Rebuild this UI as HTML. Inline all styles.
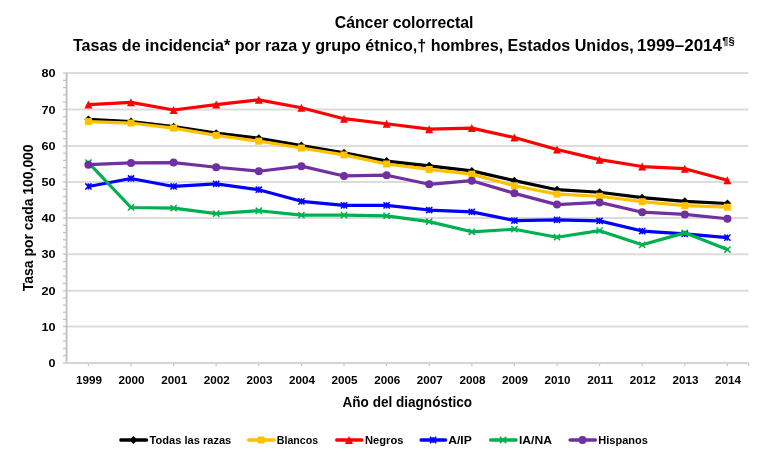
<!DOCTYPE html>
<html><head><meta charset="utf-8"><style>
html,body{margin:0;padding:0;background:#fff;}
svg{display:block;will-change:transform;}
text{font-family:"Liberation Sans", sans-serif;fill:#000;}
</style></head><body>
<svg width="764" height="461" viewBox="0 0 764 461">
<rect width="764" height="461" fill="#fff"/>
<line x1="66.60" y1="326.55" x2="748.50" y2="326.55" stroke="#DCDCDC" stroke-width="2.0"/>
<line x1="66.60" y1="290.75" x2="748.50" y2="290.75" stroke="#DCDCDC" stroke-width="2.0"/>
<line x1="66.60" y1="254.30" x2="748.50" y2="254.30" stroke="#DCDCDC" stroke-width="2.0"/>
<line x1="66.60" y1="218.00" x2="748.50" y2="218.00" stroke="#DCDCDC" stroke-width="2.0"/>
<line x1="66.60" y1="182.10" x2="748.50" y2="182.10" stroke="#DCDCDC" stroke-width="2.0"/>
<line x1="66.60" y1="146.00" x2="748.50" y2="146.00" stroke="#DCDCDC" stroke-width="2.0"/>
<line x1="66.60" y1="109.40" x2="748.50" y2="109.40" stroke="#DCDCDC" stroke-width="2.0"/>
<line x1="66.60" y1="73.00" x2="748.50" y2="73.00" stroke="#DCDCDC" stroke-width="2.0"/>
<line x1="63" y1="363.00" x2="66.60" y2="363.00" stroke="#BFBFBF" stroke-width="1.2"/>
<line x1="63" y1="355.71" x2="66.60" y2="355.71" stroke="#BFBFBF" stroke-width="1.2"/>
<line x1="63" y1="348.42" x2="66.60" y2="348.42" stroke="#BFBFBF" stroke-width="1.2"/>
<line x1="63" y1="341.13" x2="66.60" y2="341.13" stroke="#BFBFBF" stroke-width="1.2"/>
<line x1="63" y1="333.84" x2="66.60" y2="333.84" stroke="#BFBFBF" stroke-width="1.2"/>
<line x1="63" y1="326.55" x2="66.60" y2="326.55" stroke="#BFBFBF" stroke-width="1.2"/>
<line x1="63" y1="319.39" x2="66.60" y2="319.39" stroke="#BFBFBF" stroke-width="1.2"/>
<line x1="63" y1="312.23" x2="66.60" y2="312.23" stroke="#BFBFBF" stroke-width="1.2"/>
<line x1="63" y1="305.07" x2="66.60" y2="305.07" stroke="#BFBFBF" stroke-width="1.2"/>
<line x1="63" y1="297.91" x2="66.60" y2="297.91" stroke="#BFBFBF" stroke-width="1.2"/>
<line x1="63" y1="290.75" x2="66.60" y2="290.75" stroke="#BFBFBF" stroke-width="1.2"/>
<line x1="63" y1="283.46" x2="66.60" y2="283.46" stroke="#BFBFBF" stroke-width="1.2"/>
<line x1="63" y1="276.17" x2="66.60" y2="276.17" stroke="#BFBFBF" stroke-width="1.2"/>
<line x1="63" y1="268.88" x2="66.60" y2="268.88" stroke="#BFBFBF" stroke-width="1.2"/>
<line x1="63" y1="261.59" x2="66.60" y2="261.59" stroke="#BFBFBF" stroke-width="1.2"/>
<line x1="63" y1="254.30" x2="66.60" y2="254.30" stroke="#BFBFBF" stroke-width="1.2"/>
<line x1="63" y1="247.04" x2="66.60" y2="247.04" stroke="#BFBFBF" stroke-width="1.2"/>
<line x1="63" y1="239.78" x2="66.60" y2="239.78" stroke="#BFBFBF" stroke-width="1.2"/>
<line x1="63" y1="232.52" x2="66.60" y2="232.52" stroke="#BFBFBF" stroke-width="1.2"/>
<line x1="63" y1="225.26" x2="66.60" y2="225.26" stroke="#BFBFBF" stroke-width="1.2"/>
<line x1="63" y1="218.00" x2="66.60" y2="218.00" stroke="#BFBFBF" stroke-width="1.2"/>
<line x1="63" y1="210.82" x2="66.60" y2="210.82" stroke="#BFBFBF" stroke-width="1.2"/>
<line x1="63" y1="203.64" x2="66.60" y2="203.64" stroke="#BFBFBF" stroke-width="1.2"/>
<line x1="63" y1="196.46" x2="66.60" y2="196.46" stroke="#BFBFBF" stroke-width="1.2"/>
<line x1="63" y1="189.28" x2="66.60" y2="189.28" stroke="#BFBFBF" stroke-width="1.2"/>
<line x1="63" y1="182.10" x2="66.60" y2="182.10" stroke="#BFBFBF" stroke-width="1.2"/>
<line x1="63" y1="174.88" x2="66.60" y2="174.88" stroke="#BFBFBF" stroke-width="1.2"/>
<line x1="63" y1="167.66" x2="66.60" y2="167.66" stroke="#BFBFBF" stroke-width="1.2"/>
<line x1="63" y1="160.44" x2="66.60" y2="160.44" stroke="#BFBFBF" stroke-width="1.2"/>
<line x1="63" y1="153.22" x2="66.60" y2="153.22" stroke="#BFBFBF" stroke-width="1.2"/>
<line x1="63" y1="146.00" x2="66.60" y2="146.00" stroke="#BFBFBF" stroke-width="1.2"/>
<line x1="63" y1="138.68" x2="66.60" y2="138.68" stroke="#BFBFBF" stroke-width="1.2"/>
<line x1="63" y1="131.36" x2="66.60" y2="131.36" stroke="#BFBFBF" stroke-width="1.2"/>
<line x1="63" y1="124.04" x2="66.60" y2="124.04" stroke="#BFBFBF" stroke-width="1.2"/>
<line x1="63" y1="116.72" x2="66.60" y2="116.72" stroke="#BFBFBF" stroke-width="1.2"/>
<line x1="63" y1="109.40" x2="66.60" y2="109.40" stroke="#BFBFBF" stroke-width="1.2"/>
<line x1="63" y1="102.12" x2="66.60" y2="102.12" stroke="#BFBFBF" stroke-width="1.2"/>
<line x1="63" y1="94.84" x2="66.60" y2="94.84" stroke="#BFBFBF" stroke-width="1.2"/>
<line x1="63" y1="87.56" x2="66.60" y2="87.56" stroke="#BFBFBF" stroke-width="1.2"/>
<line x1="63" y1="80.28" x2="66.60" y2="80.28" stroke="#BFBFBF" stroke-width="1.2"/>
<line x1="63" y1="73.00" x2="66.60" y2="73.00" stroke="#BFBFBF" stroke-width="1.2"/>
<line x1="88.40" y1="363.00" x2="88.40" y2="366" stroke="#BFBFBF" stroke-width="1.2"/>
<line x1="131.00" y1="363.00" x2="131.00" y2="366" stroke="#BFBFBF" stroke-width="1.2"/>
<line x1="173.60" y1="363.00" x2="173.60" y2="366" stroke="#BFBFBF" stroke-width="1.2"/>
<line x1="216.20" y1="363.00" x2="216.20" y2="366" stroke="#BFBFBF" stroke-width="1.2"/>
<line x1="258.80" y1="363.00" x2="258.80" y2="366" stroke="#BFBFBF" stroke-width="1.2"/>
<line x1="301.40" y1="363.00" x2="301.40" y2="366" stroke="#BFBFBF" stroke-width="1.2"/>
<line x1="344.00" y1="363.00" x2="344.00" y2="366" stroke="#BFBFBF" stroke-width="1.2"/>
<line x1="386.60" y1="363.00" x2="386.60" y2="366" stroke="#BFBFBF" stroke-width="1.2"/>
<line x1="429.20" y1="363.00" x2="429.20" y2="366" stroke="#BFBFBF" stroke-width="1.2"/>
<line x1="471.80" y1="363.00" x2="471.80" y2="366" stroke="#BFBFBF" stroke-width="1.2"/>
<line x1="514.40" y1="363.00" x2="514.40" y2="366" stroke="#BFBFBF" stroke-width="1.2"/>
<line x1="557.00" y1="363.00" x2="557.00" y2="366" stroke="#BFBFBF" stroke-width="1.2"/>
<line x1="599.60" y1="363.00" x2="599.60" y2="366" stroke="#BFBFBF" stroke-width="1.2"/>
<line x1="642.20" y1="363.00" x2="642.20" y2="366" stroke="#BFBFBF" stroke-width="1.2"/>
<line x1="684.80" y1="363.00" x2="684.80" y2="366" stroke="#BFBFBF" stroke-width="1.2"/>
<line x1="727.40" y1="363.00" x2="727.40" y2="366" stroke="#BFBFBF" stroke-width="1.2"/>
<line x1="748.50" y1="363.00" x2="748.50" y2="366" stroke="#BFBFBF" stroke-width="1.2"/>
<line x1="66.60" y1="73.00" x2="66.60" y2="363.75" stroke="#BFBFBF" stroke-width="1.8"/>
<line x1="65.70" y1="363.00" x2="748.50" y2="363.00" stroke="#D4D4D4" stroke-width="1.9"/>
<polyline points="88.40,119.40 131.00,121.57 173.60,126.65 216.20,133.18 258.80,138.25 301.40,145.50 344.00,152.75 386.60,161.09 429.20,165.80 471.80,170.88 514.40,180.66 557.00,189.72 599.60,192.26 642.20,197.70 684.80,201.32 727.40,203.50" fill="none" stroke="#000000" stroke-width="3.2" stroke-linejoin="round" stroke-linecap="round"/>
<path d="M88.40,115.40 L92.40,119.40 L88.40,123.40 L84.40,119.40Z" fill="#000000"/>
<path d="M131.00,117.57 L135.00,121.57 L131.00,125.57 L127.00,121.57Z" fill="#000000"/>
<path d="M173.60,122.65 L177.60,126.65 L173.60,130.65 L169.60,126.65Z" fill="#000000"/>
<path d="M216.20,129.18 L220.20,133.18 L216.20,137.18 L212.20,133.18Z" fill="#000000"/>
<path d="M258.80,134.25 L262.80,138.25 L258.80,142.25 L254.80,138.25Z" fill="#000000"/>
<path d="M301.40,141.50 L305.40,145.50 L301.40,149.50 L297.40,145.50Z" fill="#000000"/>
<path d="M344.00,148.75 L348.00,152.75 L344.00,156.75 L340.00,152.75Z" fill="#000000"/>
<path d="M386.60,157.09 L390.60,161.09 L386.60,165.09 L382.60,161.09Z" fill="#000000"/>
<path d="M429.20,161.80 L433.20,165.80 L429.20,169.80 L425.20,165.80Z" fill="#000000"/>
<path d="M471.80,166.88 L475.80,170.88 L471.80,174.88 L467.80,170.88Z" fill="#000000"/>
<path d="M514.40,176.66 L518.40,180.66 L514.40,184.66 L510.40,180.66Z" fill="#000000"/>
<path d="M557.00,185.72 L561.00,189.72 L557.00,193.72 L553.00,189.72Z" fill="#000000"/>
<path d="M599.60,188.26 L603.60,192.26 L599.60,196.26 L595.60,192.26Z" fill="#000000"/>
<path d="M642.20,193.70 L646.20,197.70 L642.20,201.70 L638.20,197.70Z" fill="#000000"/>
<path d="M684.80,197.32 L688.80,201.32 L684.80,205.32 L680.80,201.32Z" fill="#000000"/>
<path d="M727.40,199.50 L731.40,203.50 L727.40,207.50 L723.40,203.50Z" fill="#000000"/>
<polyline points="88.40,121.57 131.00,123.03 173.60,128.10 216.20,135.35 258.80,141.15 301.40,148.04 344.00,154.93 386.60,163.99 429.20,169.43 471.80,174.14 514.40,185.74 557.00,194.07 599.60,196.25 642.20,201.69 684.80,205.68 727.40,207.12" fill="none" stroke="#FFC000" stroke-width="3.2" stroke-linejoin="round" stroke-linecap="round"/>
<rect x="84.90" y="118.07" width="7.00" height="7.00" fill="#FFC000"/>
<rect x="127.50" y="119.53" width="7.00" height="7.00" fill="#FFC000"/>
<rect x="170.10" y="124.60" width="7.00" height="7.00" fill="#FFC000"/>
<rect x="212.70" y="131.85" width="7.00" height="7.00" fill="#FFC000"/>
<rect x="255.30" y="137.65" width="7.00" height="7.00" fill="#FFC000"/>
<rect x="297.90" y="144.54" width="7.00" height="7.00" fill="#FFC000"/>
<rect x="340.50" y="151.43" width="7.00" height="7.00" fill="#FFC000"/>
<rect x="383.10" y="160.49" width="7.00" height="7.00" fill="#FFC000"/>
<rect x="425.70" y="165.93" width="7.00" height="7.00" fill="#FFC000"/>
<rect x="468.30" y="170.64" width="7.00" height="7.00" fill="#FFC000"/>
<rect x="510.90" y="182.24" width="7.00" height="7.00" fill="#FFC000"/>
<rect x="553.50" y="190.57" width="7.00" height="7.00" fill="#FFC000"/>
<rect x="596.10" y="192.75" width="7.00" height="7.00" fill="#FFC000"/>
<rect x="638.70" y="198.19" width="7.00" height="7.00" fill="#FFC000"/>
<rect x="681.30" y="202.18" width="7.00" height="7.00" fill="#FFC000"/>
<rect x="723.90" y="203.62" width="7.00" height="7.00" fill="#FFC000"/>
<polyline points="88.40,104.54 131.00,102.36 173.60,109.97 216.20,104.54 258.80,99.82 301.40,107.80 344.00,118.68 386.60,123.75 429.20,129.19 471.80,128.10 514.40,137.53 557.00,149.49 599.60,159.64 642.20,166.53 684.80,168.70 727.40,180.30" fill="none" stroke="#FF0000" stroke-width="3.2" stroke-linejoin="round" stroke-linecap="round"/>
<path d="M88.40,100.54 L92.40,108.54 L84.40,108.54Z" fill="#FF0000"/>
<path d="M131.00,98.36 L135.00,106.36 L127.00,106.36Z" fill="#FF0000"/>
<path d="M173.60,105.97 L177.60,113.97 L169.60,113.97Z" fill="#FF0000"/>
<path d="M216.20,100.54 L220.20,108.54 L212.20,108.54Z" fill="#FF0000"/>
<path d="M258.80,95.82 L262.80,103.82 L254.80,103.82Z" fill="#FF0000"/>
<path d="M301.40,103.80 L305.40,111.80 L297.40,111.80Z" fill="#FF0000"/>
<path d="M344.00,114.68 L348.00,122.68 L340.00,122.68Z" fill="#FF0000"/>
<path d="M386.60,119.75 L390.60,127.75 L382.60,127.75Z" fill="#FF0000"/>
<path d="M429.20,125.19 L433.20,133.19 L425.20,133.19Z" fill="#FF0000"/>
<path d="M471.80,124.10 L475.80,132.10 L467.80,132.10Z" fill="#FF0000"/>
<path d="M514.40,133.53 L518.40,141.53 L510.40,141.53Z" fill="#FF0000"/>
<path d="M557.00,145.49 L561.00,153.49 L553.00,153.49Z" fill="#FF0000"/>
<path d="M599.60,155.64 L603.60,163.64 L595.60,163.64Z" fill="#FF0000"/>
<path d="M642.20,162.53 L646.20,170.53 L638.20,170.53Z" fill="#FF0000"/>
<path d="M684.80,164.70 L688.80,172.70 L680.80,172.70Z" fill="#FF0000"/>
<path d="M727.40,176.30 L731.40,184.30 L723.40,184.30Z" fill="#FF0000"/>
<polyline points="88.40,186.46 131.00,178.49 173.60,186.46 216.20,183.93 258.80,189.72 301.40,201.32 344.00,205.31 386.60,205.31 429.20,210.03 471.80,211.84 514.40,220.54 557.00,219.81 599.60,220.90 642.20,231.05 684.80,233.95 727.40,237.57" fill="none" stroke="#0000FF" stroke-width="3.2" stroke-linejoin="round" stroke-linecap="round"/>
<path d="M85.30,183.36 L91.50,189.56 M91.50,183.36 L85.30,189.56 M88.40,183.36 L88.40,189.56" stroke="#0000FF" stroke-width="1.5" fill="none"/>
<path d="M127.90,175.39 L134.10,181.59 M134.10,175.39 L127.90,181.59 M131.00,175.39 L131.00,181.59" stroke="#0000FF" stroke-width="1.5" fill="none"/>
<path d="M170.50,183.36 L176.70,189.56 M176.70,183.36 L170.50,189.56 M173.60,183.36 L173.60,189.56" stroke="#0000FF" stroke-width="1.5" fill="none"/>
<path d="M213.10,180.83 L219.30,187.03 M219.30,180.83 L213.10,187.03 M216.20,180.83 L216.20,187.03" stroke="#0000FF" stroke-width="1.5" fill="none"/>
<path d="M255.70,186.62 L261.90,192.82 M261.90,186.62 L255.70,192.82 M258.80,186.62 L258.80,192.82" stroke="#0000FF" stroke-width="1.5" fill="none"/>
<path d="M298.30,198.22 L304.50,204.42 M304.50,198.22 L298.30,204.42 M301.40,198.22 L301.40,204.42" stroke="#0000FF" stroke-width="1.5" fill="none"/>
<path d="M340.90,202.21 L347.10,208.41 M347.10,202.21 L340.90,208.41 M344.00,202.21 L344.00,208.41" stroke="#0000FF" stroke-width="1.5" fill="none"/>
<path d="M383.50,202.21 L389.70,208.41 M389.70,202.21 L383.50,208.41 M386.60,202.21 L386.60,208.41" stroke="#0000FF" stroke-width="1.5" fill="none"/>
<path d="M426.10,206.93 L432.30,213.12 M432.30,206.93 L426.10,213.12 M429.20,206.93 L429.20,213.12" stroke="#0000FF" stroke-width="1.5" fill="none"/>
<path d="M468.70,208.74 L474.90,214.94 M474.90,208.74 L468.70,214.94 M471.80,208.74 L471.80,214.94" stroke="#0000FF" stroke-width="1.5" fill="none"/>
<path d="M511.30,217.44 L517.50,223.64 M517.50,217.44 L511.30,223.64 M514.40,217.44 L514.40,223.64" stroke="#0000FF" stroke-width="1.5" fill="none"/>
<path d="M553.90,216.71 L560.10,222.91 M560.10,216.71 L553.90,222.91 M557.00,216.71 L557.00,222.91" stroke="#0000FF" stroke-width="1.5" fill="none"/>
<path d="M596.50,217.80 L602.70,224.00 M602.70,217.80 L596.50,224.00 M599.60,217.80 L599.60,224.00" stroke="#0000FF" stroke-width="1.5" fill="none"/>
<path d="M639.10,227.95 L645.30,234.15 M645.30,227.95 L639.10,234.15 M642.20,227.95 L642.20,234.15" stroke="#0000FF" stroke-width="1.5" fill="none"/>
<path d="M681.70,230.85 L687.90,237.05 M687.90,230.85 L681.70,237.05 M684.80,230.85 L684.80,237.05" stroke="#0000FF" stroke-width="1.5" fill="none"/>
<path d="M724.30,234.47 L730.50,240.67 M730.50,234.47 L724.30,240.67 M727.40,234.47 L727.40,240.67" stroke="#0000FF" stroke-width="1.5" fill="none"/>
<polyline points="88.40,162.54 131.00,207.49 173.60,208.21 216.20,213.65 258.80,210.75 301.40,215.10 344.00,215.10 386.60,215.82 429.20,221.62 471.80,231.78 514.40,229.24 557.00,237.21 599.60,230.69 642.20,244.82 684.80,232.86 727.40,249.54" fill="none" stroke="#00B050" stroke-width="3.2" stroke-linejoin="round" stroke-linecap="round"/>
<path d="M85.30,159.44 L91.50,165.64 M91.50,159.44 L85.30,165.64" stroke="#00B050" stroke-width="1.5" fill="none"/>
<path d="M127.90,204.39 L134.10,210.59 M134.10,204.39 L127.90,210.59" stroke="#00B050" stroke-width="1.5" fill="none"/>
<path d="M170.50,205.11 L176.70,211.31 M176.70,205.11 L170.50,211.31" stroke="#00B050" stroke-width="1.5" fill="none"/>
<path d="M213.10,210.55 L219.30,216.75 M219.30,210.55 L213.10,216.75" stroke="#00B050" stroke-width="1.5" fill="none"/>
<path d="M255.70,207.65 L261.90,213.85 M261.90,207.65 L255.70,213.85" stroke="#00B050" stroke-width="1.5" fill="none"/>
<path d="M298.30,212.00 L304.50,218.20 M304.50,212.00 L298.30,218.20" stroke="#00B050" stroke-width="1.5" fill="none"/>
<path d="M340.90,212.00 L347.10,218.20 M347.10,212.00 L340.90,218.20" stroke="#00B050" stroke-width="1.5" fill="none"/>
<path d="M383.50,212.72 L389.70,218.92 M389.70,212.72 L383.50,218.92" stroke="#00B050" stroke-width="1.5" fill="none"/>
<path d="M426.10,218.53 L432.30,224.72 M432.30,218.53 L426.10,224.72" stroke="#00B050" stroke-width="1.5" fill="none"/>
<path d="M468.70,228.68 L474.90,234.88 M474.90,228.68 L468.70,234.88" stroke="#00B050" stroke-width="1.5" fill="none"/>
<path d="M511.30,226.14 L517.50,232.34 M517.50,226.14 L511.30,232.34" stroke="#00B050" stroke-width="1.5" fill="none"/>
<path d="M553.90,234.11 L560.10,240.31 M560.10,234.11 L553.90,240.31" stroke="#00B050" stroke-width="1.5" fill="none"/>
<path d="M596.50,227.59 L602.70,233.79 M602.70,227.59 L596.50,233.79" stroke="#00B050" stroke-width="1.5" fill="none"/>
<path d="M639.10,241.72 L645.30,247.92 M645.30,241.72 L639.10,247.92" stroke="#00B050" stroke-width="1.5" fill="none"/>
<path d="M681.70,229.76 L687.90,235.96 M687.90,229.76 L681.70,235.96" stroke="#00B050" stroke-width="1.5" fill="none"/>
<path d="M724.30,246.44 L730.50,252.64 M730.50,246.44 L724.30,252.64" stroke="#00B050" stroke-width="1.5" fill="none"/>
<polyline points="88.40,164.71 131.00,162.90 173.60,162.54 216.20,167.25 258.80,171.24 301.40,166.16 344.00,175.95 386.60,175.22 429.20,184.29 471.80,180.66 514.40,193.35 557.00,204.59 599.60,202.41 642.20,212.20 684.80,214.38 727.40,218.72" fill="none" stroke="#7030A0" stroke-width="3.2" stroke-linejoin="round" stroke-linecap="round"/>
<circle cx="88.40" cy="164.71" r="4.00" fill="#7030A0"/>
<circle cx="131.00" cy="162.90" r="4.00" fill="#7030A0"/>
<circle cx="173.60" cy="162.54" r="4.00" fill="#7030A0"/>
<circle cx="216.20" cy="167.25" r="4.00" fill="#7030A0"/>
<circle cx="258.80" cy="171.24" r="4.00" fill="#7030A0"/>
<circle cx="301.40" cy="166.16" r="4.00" fill="#7030A0"/>
<circle cx="344.00" cy="175.95" r="4.00" fill="#7030A0"/>
<circle cx="386.60" cy="175.22" r="4.00" fill="#7030A0"/>
<circle cx="429.20" cy="184.29" r="4.00" fill="#7030A0"/>
<circle cx="471.80" cy="180.66" r="4.00" fill="#7030A0"/>
<circle cx="514.40" cy="193.35" r="4.00" fill="#7030A0"/>
<circle cx="557.00" cy="204.59" r="4.00" fill="#7030A0"/>
<circle cx="599.60" cy="202.41" r="4.00" fill="#7030A0"/>
<circle cx="642.20" cy="212.20" r="4.00" fill="#7030A0"/>
<circle cx="684.80" cy="214.38" r="4.00" fill="#7030A0"/>
<circle cx="727.40" cy="218.72" r="4.00" fill="#7030A0"/>
<text x="55.5" y="367.15" text-anchor="end" font-size="11.6" font-weight="bold" textLength="7.0" lengthAdjust="spacingAndGlyphs">0</text>
<text x="55.5" y="330.70" text-anchor="end" font-size="11.6" font-weight="bold" textLength="14.1" lengthAdjust="spacingAndGlyphs">10</text>
<text x="55.5" y="294.90" text-anchor="end" font-size="11.6" font-weight="bold" textLength="14.1" lengthAdjust="spacingAndGlyphs">20</text>
<text x="55.5" y="258.45" text-anchor="end" font-size="11.6" font-weight="bold" textLength="14.1" lengthAdjust="spacingAndGlyphs">30</text>
<text x="55.5" y="222.15" text-anchor="end" font-size="11.6" font-weight="bold" textLength="14.1" lengthAdjust="spacingAndGlyphs">40</text>
<text x="55.5" y="186.25" text-anchor="end" font-size="11.6" font-weight="bold" textLength="14.1" lengthAdjust="spacingAndGlyphs">50</text>
<text x="55.5" y="150.15" text-anchor="end" font-size="11.6" font-weight="bold" textLength="14.1" lengthAdjust="spacingAndGlyphs">60</text>
<text x="55.5" y="113.55" text-anchor="end" font-size="11.6" font-weight="bold" textLength="14.1" lengthAdjust="spacingAndGlyphs">70</text>
<text x="55.5" y="77.15" text-anchor="end" font-size="11.6" font-weight="bold" textLength="14.1" lengthAdjust="spacingAndGlyphs">80</text>
<text x="89.00" y="383.9" text-anchor="middle" font-size="11.3" font-weight="bold" textLength="26" lengthAdjust="spacingAndGlyphs">1999</text>
<text x="131.60" y="383.9" text-anchor="middle" font-size="11.3" font-weight="bold" textLength="26" lengthAdjust="spacingAndGlyphs">2000</text>
<text x="174.20" y="383.9" text-anchor="middle" font-size="11.3" font-weight="bold" textLength="26" lengthAdjust="spacingAndGlyphs">2001</text>
<text x="216.80" y="383.9" text-anchor="middle" font-size="11.3" font-weight="bold" textLength="26" lengthAdjust="spacingAndGlyphs">2002</text>
<text x="259.40" y="383.9" text-anchor="middle" font-size="11.3" font-weight="bold" textLength="26" lengthAdjust="spacingAndGlyphs">2003</text>
<text x="302.00" y="383.9" text-anchor="middle" font-size="11.3" font-weight="bold" textLength="26" lengthAdjust="spacingAndGlyphs">2004</text>
<text x="344.60" y="383.9" text-anchor="middle" font-size="11.3" font-weight="bold" textLength="26" lengthAdjust="spacingAndGlyphs">2005</text>
<text x="387.20" y="383.9" text-anchor="middle" font-size="11.3" font-weight="bold" textLength="26" lengthAdjust="spacingAndGlyphs">2006</text>
<text x="429.80" y="383.9" text-anchor="middle" font-size="11.3" font-weight="bold" textLength="26" lengthAdjust="spacingAndGlyphs">2007</text>
<text x="472.40" y="383.9" text-anchor="middle" font-size="11.3" font-weight="bold" textLength="26" lengthAdjust="spacingAndGlyphs">2008</text>
<text x="515.00" y="383.9" text-anchor="middle" font-size="11.3" font-weight="bold" textLength="26" lengthAdjust="spacingAndGlyphs">2009</text>
<text x="557.60" y="383.9" text-anchor="middle" font-size="11.3" font-weight="bold" textLength="26" lengthAdjust="spacingAndGlyphs">2010</text>
<text x="600.20" y="383.9" text-anchor="middle" font-size="11.3" font-weight="bold" textLength="26" lengthAdjust="spacingAndGlyphs">2011</text>
<text x="642.80" y="383.9" text-anchor="middle" font-size="11.3" font-weight="bold" textLength="26" lengthAdjust="spacingAndGlyphs">2012</text>
<text x="685.40" y="383.9" text-anchor="middle" font-size="11.3" font-weight="bold" textLength="26" lengthAdjust="spacingAndGlyphs">2013</text>
<text x="728.00" y="383.9" text-anchor="middle" font-size="11.3" font-weight="bold" textLength="26" lengthAdjust="spacingAndGlyphs">2014</text>
<text x="404.1" y="27.9" text-anchor="middle" font-size="16" font-weight="bold" textLength="138.6" lengthAdjust="spacingAndGlyphs">Cáncer colorrectal</text>
<text x="72.9" y="50.9" font-size="16" font-weight="bold" textLength="560.9" lengthAdjust="spacingAndGlyphs">Tasas de incidencia* por raza y grupo étnico,† hombres, Estados Unidos,</text>
<text x="637" y="50.9" font-size="16" font-weight="bold" textLength="85" lengthAdjust="spacingAndGlyphs">1999–2014</text>
<text x="722.3" y="44.8" font-size="11" font-weight="bold" textLength="12.4" lengthAdjust="spacingAndGlyphs">¶§</text>
<text x="407.3" y="407.2" text-anchor="middle" font-size="14" font-weight="bold" textLength="129.5" lengthAdjust="spacingAndGlyphs">Año del diagnóstico</text>
<text transform="translate(33.1,217.8) rotate(-90)" x="0" y="0" text-anchor="middle" font-size="14" font-weight="bold" textLength="146.8" lengthAdjust="spacingAndGlyphs">Tasa por cada 100,000</text>
<line x1="120.8" y1="440" x2="146.6" y2="440" stroke="#000000" stroke-width="3.3" stroke-linecap="round"/>
<path d="M133.45,436.00 L137.45,440.00 L133.45,444.00 L129.45,440.00Z" fill="#000000"/>
<text x="149.6" y="443.7" font-size="11" font-weight="bold" textLength="81.7" lengthAdjust="spacingAndGlyphs">Todas las razas</text>
<line x1="248.6" y1="440" x2="274.2" y2="440" stroke="#FFC000" stroke-width="3.3" stroke-linecap="round"/>
<rect x="257.65" y="436.50" width="7.00" height="7.00" fill="#FFC000"/>
<text x="276.8" y="443.7" font-size="11" font-weight="bold" textLength="41.4" lengthAdjust="spacingAndGlyphs">Blancos</text>
<line x1="336.70000000000005" y1="440" x2="361.79999999999995" y2="440" stroke="#FF0000" stroke-width="3.3" stroke-linecap="round"/>
<path d="M349.00,436.00 L353.00,444.00 L345.00,444.00Z" fill="#FF0000"/>
<text x="365" y="443.7" font-size="11" font-weight="bold" textLength="38.4" lengthAdjust="spacingAndGlyphs">Negros</text>
<line x1="421.1" y1="440" x2="445.59999999999997" y2="440" stroke="#0000FF" stroke-width="3.3" stroke-linecap="round"/>
<path d="M430.00,436.90 L436.20,443.10 M436.20,436.90 L430.00,443.10 M433.10,436.90 L433.10,443.10" stroke="#0000FF" stroke-width="1.5" fill="none"/>
<text x="448.2" y="443.7" font-size="11" font-weight="bold" textLength="23.6" lengthAdjust="spacingAndGlyphs">A/IP</text>
<line x1="490.6" y1="440" x2="516.1" y2="440" stroke="#00B050" stroke-width="3.3" stroke-linecap="round"/>
<path d="M500.00,436.90 L506.20,443.10 M506.20,436.90 L500.00,443.10" stroke="#00B050" stroke-width="1.5" fill="none"/>
<text x="518.9" y="443.7" font-size="11" font-weight="bold" textLength="33" lengthAdjust="spacingAndGlyphs">IA/NA</text>
<line x1="570.0" y1="440" x2="595.5" y2="440" stroke="#7030A0" stroke-width="3.3" stroke-linecap="round"/>
<circle cx="582.50" cy="440.00" r="4.00" fill="#7030A0"/>
<text x="598.3" y="443.7" font-size="11" font-weight="bold" textLength="49.5" lengthAdjust="spacingAndGlyphs">Hispanos</text>
</svg>
</body></html>
